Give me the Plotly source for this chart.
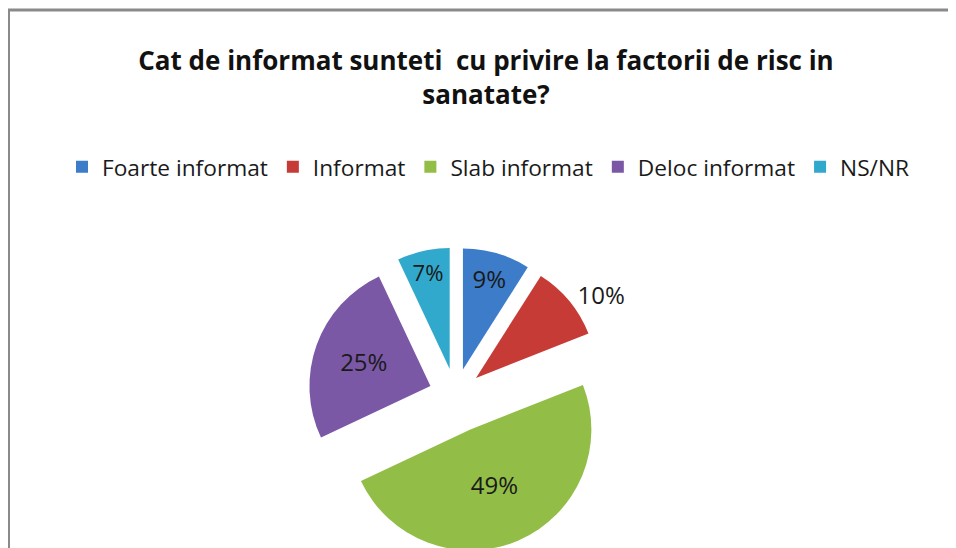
import plotly.graph_objects as go

categories = ["Foarte informat", "Informat", "Slab informat", "Deloc informat", "NS/NR"]
values = [9, 10, 49, 25, 7]
colors = ["#3D7CC9", "#C73B37", "#92BE47", "#7A58A6", "#30A9CC"]
pulls = [0.22, 0.22, 0.31, 0.22, 0.22]
text_positions = ["inside", "outside", "inside", "inside", "inside"]
title_text = "Cat de informat sunteti  cu privire la factorii de risc in<br>sanatate?"

W, H = 956, 548
FONT = "Open Sans"
OFF = 8  # page offset of the figure inside the browser body


def px_x(x):
    return (x - OFF) / W


def px_y(y):
    return 1 - (y - OFF) / H


fig = go.Figure(
    go.Pie(
        labels=categories,
        values=values,
        sort=False,
        direction="clockwise",
        rotation=0,
        pull=pulls,
        marker=dict(colors=colors, line=dict(width=0)),
        textinfo="percent",
        texttemplate="%{percent:.0%}",
        textposition=text_positions,
        insidetextorientation="horizontal",
        textfont=dict(family=FONT, size=24, color="#1a1a1a"),
        domain=dict(x=[px_x(297), px_x(614)], y=[px_y(553.5), px_y(236.5)]),
        hoverinfo="label+percent",
    )
)

fig.update_layout(
    width=W,
    height=H,
    margin=dict(l=0, r=0, t=0, b=0, pad=0, autoexpand=False),
    paper_bgcolor="white",
    plot_bgcolor="white",
    title=dict(
        text=title_text,
        x=px_x(486),
        xanchor="center",
        y=px_y(70),
        yanchor="middle",
        yref="container",
        font=dict(family=FONT, size=26, color="#111111", weight="bold"),
    ),
    legend=dict(
        orientation="h",
        x=px_x(62),
        xanchor="left",
        y=px_y(167),
        yanchor="middle",
        font=dict(family=FONT, size=22.7, color="#1a1a1a"),
        bgcolor="rgba(0,0,0,0)",
    ),
    shapes=[
        dict(type="line", xref="paper", yref="paper", x0=px_x(8), x1=1.01, y0=px_y(10), y1=px_y(10),
             line=dict(color="#8a8a8a", width=3)),
        dict(type="line", xref="paper", yref="paper", x0=px_x(8.5), x1=px_x(8.5), y0=px_y(10), y1=-0.01,
             line=dict(color="#8a8a8a", width=3)),
    ],
)

fig.write_html("out.html")
